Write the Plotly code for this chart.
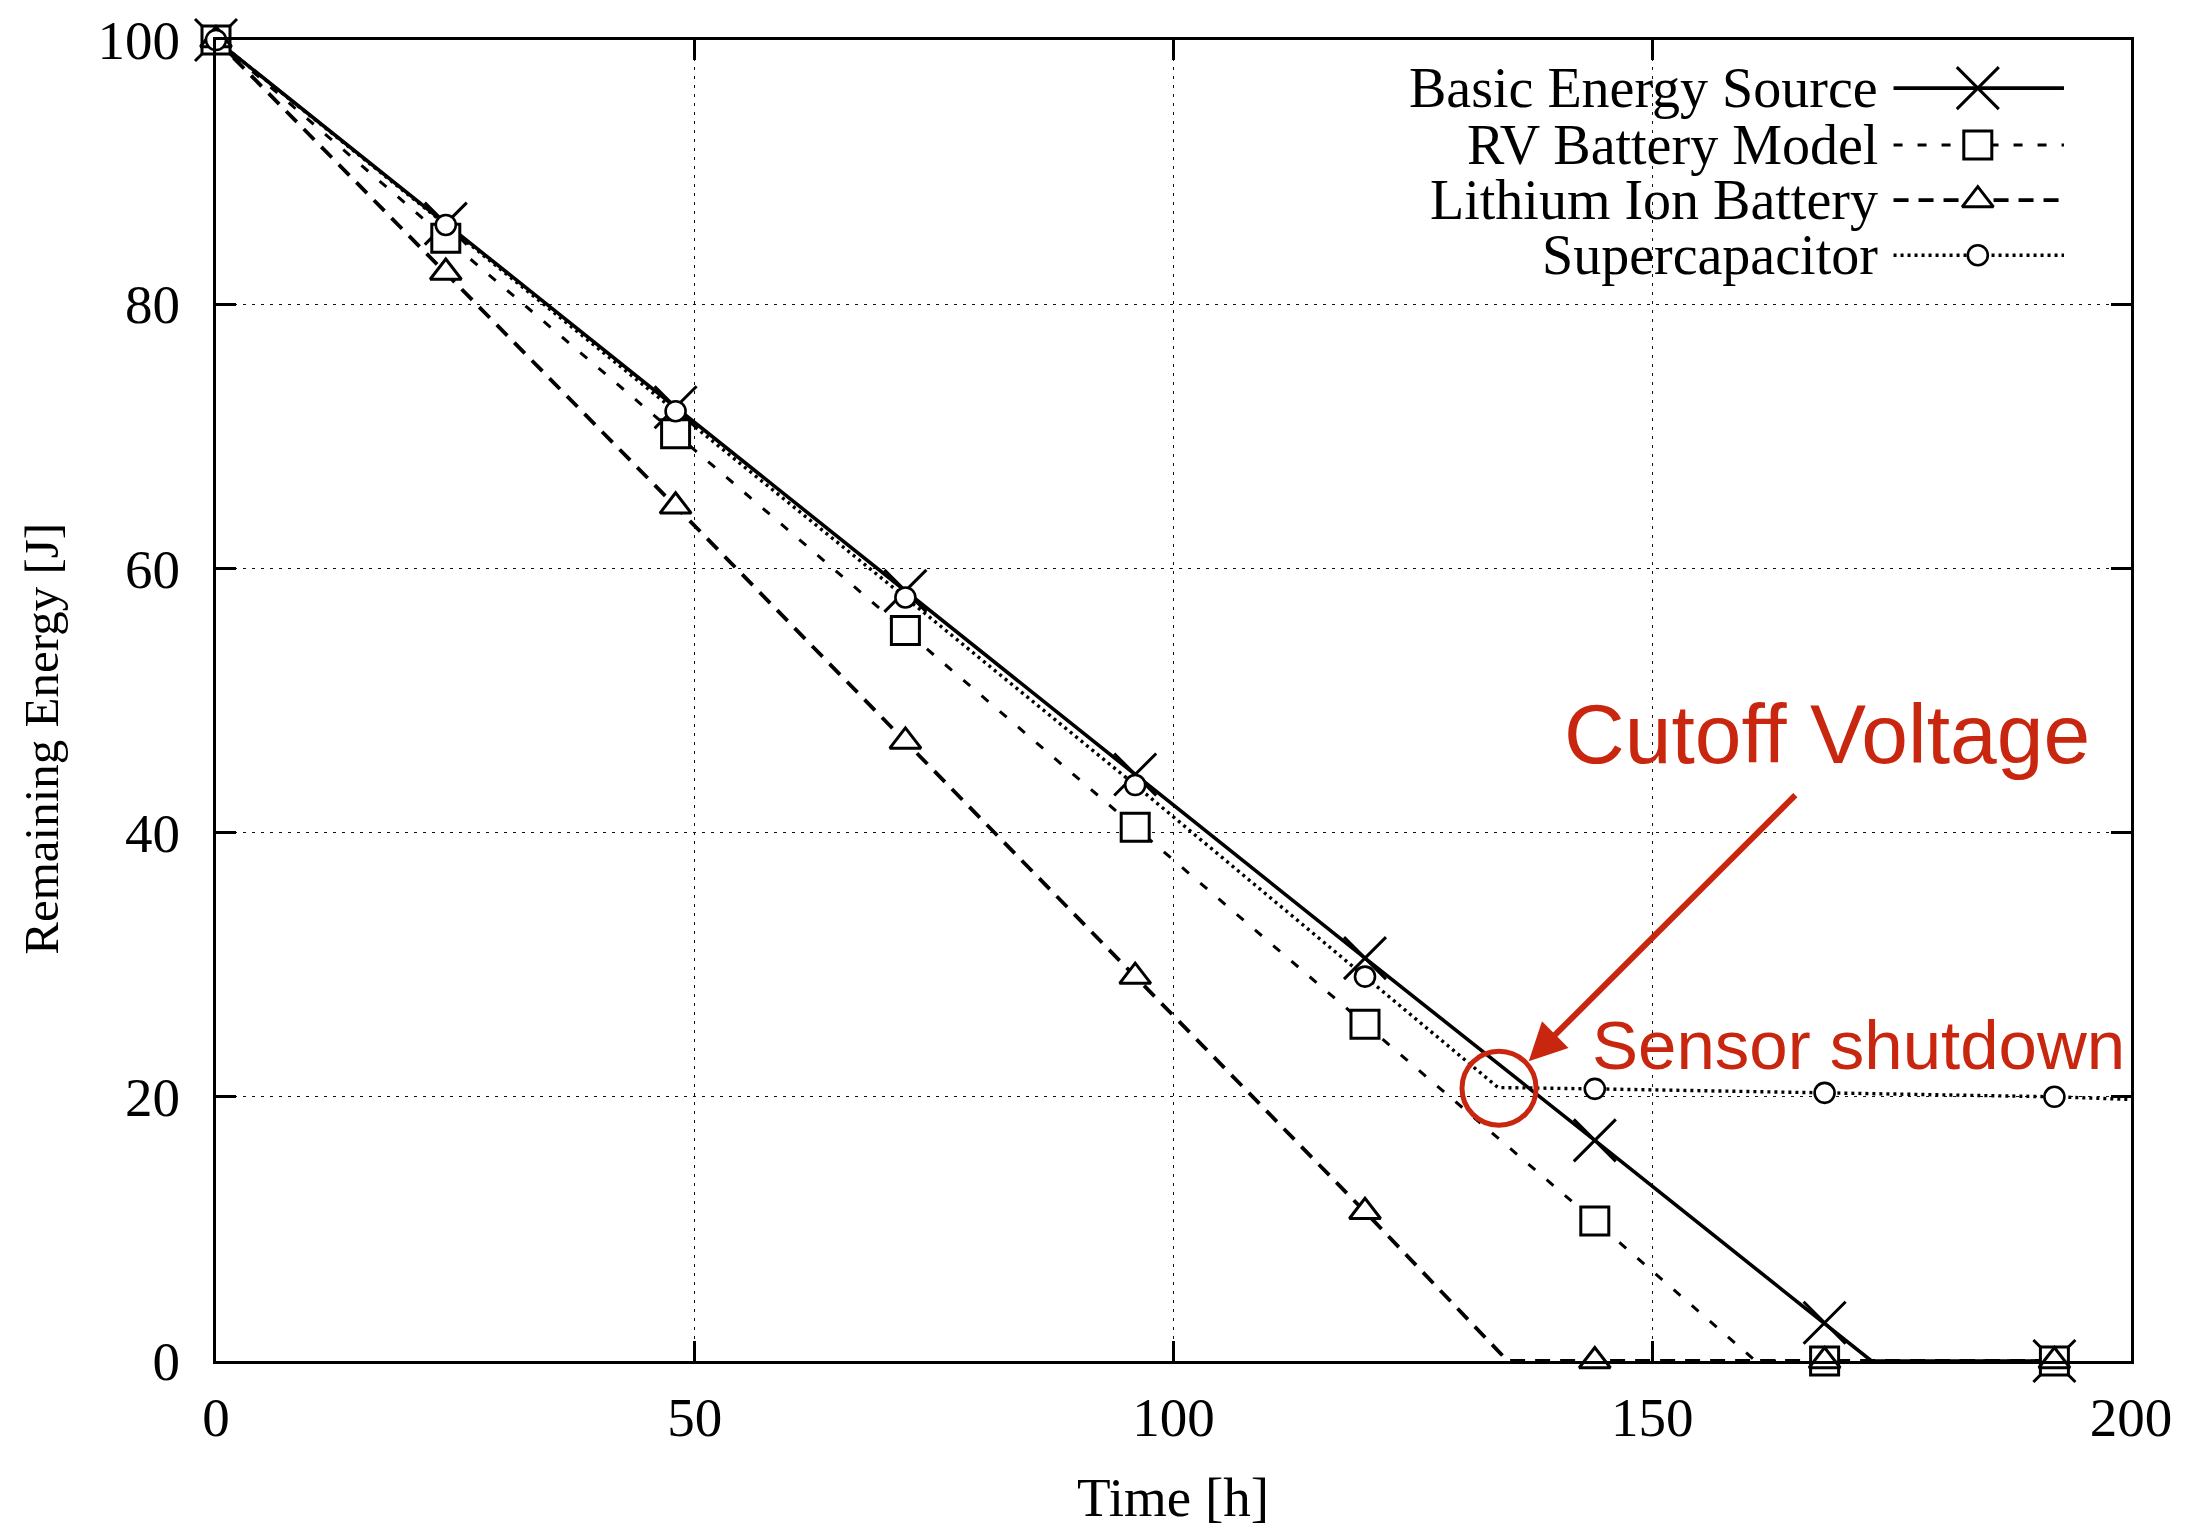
import plotly.graph_objects as go

# ---------------- data ----------------
hours = [0, 24, 48, 72, 96, 120, 144, 168, 192]
basic_energy = [100, 86.1, 72.2, 58.3, 44.4, 30.5, 16.7, 2.9, 0]
rv_battery = [100, 85.0, 70.2, 55.3, 40.4, 25.5, 10.6, 0, 0]
li_ion = [100, 82.4, 64.7, 46.9, 29.1, 11.3, 0, 0, 0]
supercap = [100, 86.0, 71.9, 57.8, 43.6, 29.1, 20.6, 20.3, 20.0]

# events where the curve bends between sampled markers (time [h], energy [J])
basic_empty = [(172.9, 0)]
rv_empty = [(160.8, 0)]
li_empty = [(134.9, 0)]
supercap_events = [(133.9, 20.7), (200, 19.8)]

series_names = ["Basic Energy Source", "RV Battery Model", "Lithium Ion Battery", "Supercapacitor"]
x_ticks = [0, 50, 100, 150, 200]
y_ticks = [0, 20, 40, 60, 80, 100]

SERIF = "Liberation Serif, Times New Roman, serif"
SANS = "Liberation Sans, Arial, Helvetica, sans-serif"
RED = "#c9260f"


def merged(xs, ys, events):
    pts = sorted(list(zip(xs, ys)) + list(events))
    return [p[0] for p in pts], [p[1] for p in pts]


styles = [
    dict(values=basic_energy, events=basic_empty, dash="solid", lw=3.6,
         symbol="x-thin-open", msize=42, mlw=3, fill="black"),
    dict(values=rv_battery, events=rv_empty, dash="9px,15px", lw=3.0,
         symbol="square", msize=28, mlw=3, fill="white"),
    dict(values=li_ion, events=li_empty, dash="15px,10px", lw=3.8,
         symbol="triangle-up", msize=27, mlw=3, fill="white"),
    dict(values=supercap, events=supercap_events, dash="3px,4px", lw=3.4,
         symbol="circle", msize=20, mlw=2.6, fill="white"),
]

fig = go.Figure()

# lines first (under all markers)
for name, st in zip(series_names, styles):
    lx, ly = merged(hours, st["values"], st["events"])
    fig.add_trace(go.Scatter(
        x=lx, y=ly, mode="lines", name=name, showlegend=False,
        line=dict(color="black", width=st["lw"], dash=st["dash"]),
        hoverinfo="skip"))

# markers
for name, st in zip(series_names, styles):
    fig.add_trace(go.Scatter(
        x=hours, y=st["values"], mode="markers", name=name, showlegend=False,
        cliponaxis=False,
        marker=dict(symbol=st["symbol"], size=st["msize"], color=st["fill"],
                    line=dict(color="black", width=st["mlw"]))))

# ---------------- manual gnuplot-style legend (overlay paper-like axes) ----------------
leg_rows = [0.9636, 0.9205, 0.8788, 0.8371]
leg_x0, leg_x1, leg_xm, leg_text_x = 0.876, 0.965, 0.920, 0.8688
for name, st, ry in zip(series_names, styles, leg_rows):
    fig.add_trace(go.Scatter(
        x=[leg_x0, leg_x1], y=[ry, ry], xaxis="x2", yaxis="y2", mode="lines",
        showlegend=False, hoverinfo="skip",
        line=dict(color="black", width=st["lw"], dash=st["dash"])))
    fig.add_trace(go.Scatter(
        x=[leg_xm], y=[ry], xaxis="x2", yaxis="y2", mode="markers",
        showlegend=False, hoverinfo="skip", cliponaxis=False,
        marker=dict(symbol=st["symbol"], size=st["msize"], color=st["fill"],
                    line=dict(color="black", width=st["mlw"]))))

annotations = []
for name, ry in zip(series_names, leg_rows):
    annotations.append(dict(
        x=leg_text_x, y=ry, xref="paper", yref="paper", text=name, showarrow=False,
        xanchor="right", yanchor="middle", font=dict(family=SERIF, size=56, color="black")))

# axis titles
annotations.append(dict(x=0.4995, y=-0.128, xref="paper", yref="paper", text="Time [h]",
                        showarrow=False, xanchor="center", yanchor="bottom",
                        font=dict(family=SERIF, size=55, color="black")))
annotations.append(dict(x=-0.0909, y=0.471, xref="paper", yref="paper",
                        text="Remaining Energy [J]", textangle=-90, showarrow=False,
                        xanchor="center", yanchor="middle",
                        font=dict(family=SERIF, size=49, color="black")))

# red annotations
annotations.append(dict(x=0.8412, y=0.475, xref="paper", yref="paper", text="Cutoff Voltage",
                        showarrow=False, xanchor="center", yanchor="middle",
                        font=dict(family=SANS, size=84, color=RED)))
annotations.append(dict(x=0.7173, y=0.2386, xref="paper", yref="paper", text="Sensor shutdown",
                        showarrow=False, xanchor="left", yanchor="middle",
                        font=dict(family=SANS, size=69, color=RED)))
annotations.append(dict(x=137.1, y=22.7, xref="x", yref="y", ax=165.1, ay=42.95,
                        axref="x", ayref="y", text="", showarrow=True,
                        arrowhead=2, arrowsize=1.25, arrowwidth=6, arrowcolor=RED))

shapes = [
    dict(type="rect", xref="paper", yref="paper", x0=0.62, x1=0.985, y0=0.815, y1=0.985,
         fillcolor="white", line=dict(width=0), layer="between"),
    dict(type="circle", xref="x", yref="y", x0=134.0 - 3.87, x1=134.0 + 3.87,
         y0=20.65 - 2.8, y1=20.65 + 2.8, line=dict(color=RED, width=5)),
]

axis_common = dict(
    ticks="inside", ticklen=20, tickwidth=3, tickcolor="black",
    showline=True, linewidth=3, linecolor="black", mirror="allticks",
    showgrid=True, gridcolor="#111111", gridwidth=1.3, griddash="3px,6px",
    zeroline=False, automargin=False,
    tickfont=dict(family=SERIF, size=55, color="black"),
)

fig.update_layout(
    width=2186, height=1529,
    margin=dict(l=216, r=55, t=40, b=168),
    paper_bgcolor="white", plot_bgcolor="white",
    showlegend=False,
    xaxis=dict(range=[0, 200], tickvals=x_ticks, ticklabelstandoff=6, **axis_common),
    yaxis=dict(range=[0, 100], tickvals=y_ticks, ticklabelstandoff=22, **axis_common),
    xaxis2=dict(range=[0, 1], overlaying="x", visible=False, fixedrange=True),
    yaxis2=dict(range=[0, 1], overlaying="y", visible=False, fixedrange=True),
    annotations=annotations,
    shapes=shapes,
)

fig.write_html("out.html")
